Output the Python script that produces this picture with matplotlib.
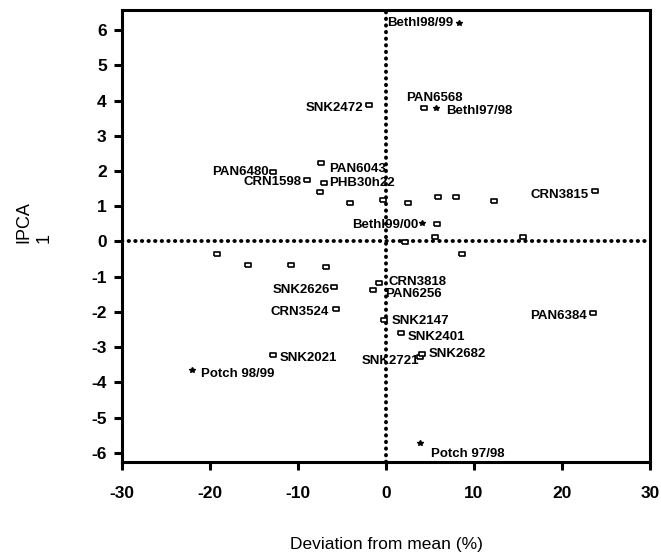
import matplotlib
matplotlib.use("Agg")
import matplotlib.pyplot as plt

plt.rcParams['font.family'] = ['Liberation Sans', 'DejaVu Sans']
plt.rcParams['axes.unicode_minus'] = False

# labelled genotypes (open rectangles)
geno_names = ['SNK2472', 'PAN6568', 'PAN6043', 'PAN6480', 'CRN1598', 'PHB30h22',
              'CRN3815', 'CRN3818', 'PAN6256', 'SNK2626', 'CRN3524', 'SNK2147',
              'SNK2401', 'SNK2721', 'SNK2682', 'PAN6384', 'SNK2021']
geno_x = [-1.9, 4.3, -7.4, -12.9, -9.0, -7.1, 23.7, -0.8, -1.5, -5.9, -5.7, -0.2,
          1.7, 3.9, 4.1, 23.5, -12.9]
geno_y = [3.87, 3.79, 2.23, 1.97, 1.74, 1.66, 1.43, -1.18, -1.38, -1.29, -1.91, -2.23,
          -2.60, -3.28, -3.18, -2.03, -3.22]

# unlabelled genotypes
other_x = [-7.5, -4.1, -0.4, 2.5, 5.9, 8.0, 12.3, 5.8, 5.6, 15.6, 2.1,
           -19.2, -15.7, -10.8, -6.8, 8.6]
other_y = [1.40, 1.09, 1.17, 1.09, 1.26, 1.26, 1.15, 0.50, 0.13, 0.13, -0.01,
           -0.35, -0.67, -0.67, -0.72, -0.35]

# environments (asterisks)
env_names = ['Bethl98/99', 'Bethl97/98', 'Bethl99/00', 'Potch 98/99', 'Potch 97/98']
env_x = [8.3, 5.7, 4.1, -22.1, 3.9]
env_y = [6.20, 3.79, 0.52, -3.65, -5.72]

xticks = [-30, -20, -10, 0, 10, 20, 30]
yticks = [-6, -5, -4, -3, -2, -1, 0, 1, 2, 3, 4, 5, 6]

# label placement: offset in points and alignment
geno_place = [(-4, -2, 'right'), (-13, 7, 'left'), (6, -4, 'left'), (-3, 0, 'right'),
              (-4, -1, 'right'), (4, 0, 'left'), (-4, -3, 'right'), (7, 1, 'left'),
              (9, -3, 'left'), (-3, -2, 'right'), (-5, -2, 'right'), (5, -1, 'left'),
              (5, -3, 'left'), (-1, -3, 'right'), (5, 0, 'left'), (-4, -2, 'right'),
              (5, -2, 'left')]
env_place = [(-4, 0, 'right'), (7, -2, 'left'), (-3, -1, 'right'), (7, -3, 'left'),
             (8, -8, 'left')]

rect = [(-1, -0.65), (1, -0.65), (1, 0.65), (-1, 0.65), (-1, -0.65)]

fig = plt.figure(figsize=(6.61, 5.6), dpi=100)
ax = fig.add_axes([0.1846, 0.175, 0.7988, 0.807])

ax.axhline(0, color='black', lw=2.8, linestyle=(0, (0.1, 1.6)), dash_capstyle='round', zorder=1)
ax.axvline(0, color='black', lw=2.8, linestyle=(0, (0.1, 1.6)), dash_capstyle='round', zorder=1)

ax.plot(geno_x + other_x, geno_y + other_y, linestyle='none', marker=rect, ms=5,
        mfc='white', mec='black', mew=1.2, zorder=3)
ax.plot(env_x, env_y, linestyle='none', marker='*', ms=4, color='black', zorder=3)

for name, x, y, (dx, dy, ha) in zip(geno_names, geno_x, geno_y, geno_place):
    ax.annotate(name, (x, y), xytext=(dx, dy), textcoords='offset points',
                ha=ha, va='center', fontsize=9.5, fontweight='bold')
for name, x, y, (dx, dy, ha) in zip(env_names, env_x, env_y, env_place):
    ax.annotate(name, (x, y), xytext=(dx, dy), textcoords='offset points',
                ha=ha, va='center', fontsize=9.5, fontweight='bold')

ax.set_xlim(-30, 30)
ax.set_ylim(-6.26, 6.57)
ax.set_xticks(xticks)
ax.set_yticks(yticks)
ax.tick_params(axis='both', direction='out', length=6, width=2.2, labelsize=12.5)
ax.tick_params(axis='x', pad=11)
ax.tick_params(axis='y', pad=5)
for lab in ax.get_xticklabels() + ax.get_yticklabels():
    lab.set_fontweight('bold')
for s in ax.spines.values():
    s.set_linewidth(2.2)

ax.set_xlabel('Deviation from mean (%)', fontsize=12.5, labelpad=26)
fig.text(34 / 661, 1 - 222 / 560, 'IPCA\n1', rotation=90, ha='center', va='center',
         multialignment='left', fontsize=13, linespacing=1.3)

fig.savefig('out.png', dpi=100)
